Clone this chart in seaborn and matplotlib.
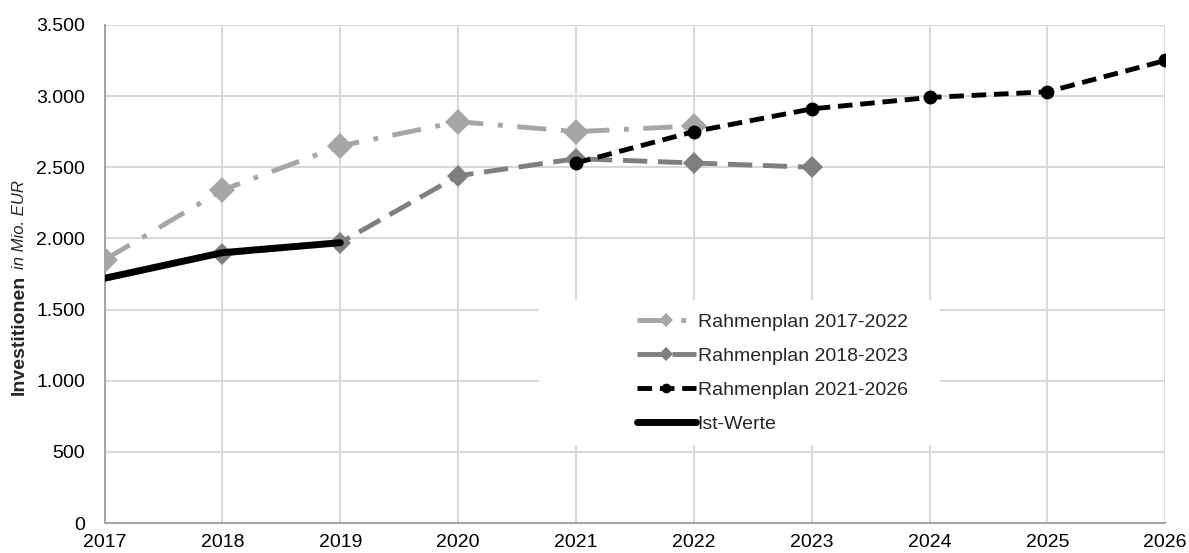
import numpy as np
import pandas as pd
import matplotlib.pyplot as plt
import seaborn as sns
from matplotlib.patches import Rectangle
from matplotlib.ticker import FuncFormatter

# ──────────────────────────────────────────────
# DATA (Mio. EUR)
# ──────────────────────────────────────────────
years_2017 = [2017, 2018, 2019, 2020, 2021, 2022]
rp_2017    = [1850, 2340, 2650, 2820, 2750, 2790]

years_2018 = [2018, 2019, 2020, 2021, 2022, 2023]
rp_2018    = [1890, 1970, 2440, 2560, 2530, 2500]

years_2021 = [2021, 2022, 2023, 2024, 2025, 2026]
rp_2021    = [2530, 2750, 2910, 2990, 3030, 3250]

years_ist  = [2017, 2018, 2019]
ist        = [1720, 1900, 1970]

x_ticks = list(range(2017, 2027))
y_ticks = [0, 500, 1000, 1500, 2000, 2500, 3000, 3500]

sns.set_theme(style='whitegrid')
plt.rcParams['font.family'] = ['Liberation Sans', 'DejaVu Sans']

fig, ax = plt.subplots(figsize=(11.89, 5.53), dpi=100)
fig.subplots_adjust(left=0.088, right=0.98, bottom=0.054, top=0.955)

series = [
    ('Rahmenplan 2017-2022', years_2017, rp_2017, '#A6A6A6', (0, (6, 3, 1, 3)), 'D', 13, 3.5),
    ('Rahmenplan 2018-2023', years_2018, rp_2018, '#7F7F7F', (0, (5, 2.2)), 'D', 11, 3.5),
    ('Rahmenplan 2021-2026', years_2021, rp_2021, '#000000', (0, (3, 1.6)), 'o', 10, 3.5),
    ('Ist-Werte', years_ist, ist, '#000000', '-', None, 0, 5),
]

for name, xs, ys, col, ls, mk, ms, lw in series:
    df = pd.DataFrame({'Jahr': xs, 'Wert': ys})
    sns.lineplot(data=df, x='Jahr', y='Wert', ax=ax, color=col, linestyle=ls,
                 marker=mk, markersize=ms, markeredgewidth=0, linewidth=lw,
                 label=name, zorder=3)

ax.set_xlim(2017, 2026)
ax.set_ylim(0, 3500)
ax.set_xticks(x_ticks)
ax.set_yticks(y_ticks)
ax.yaxis.set_major_formatter(FuncFormatter(lambda v, p: f'{int(v):,}'.replace(',', '.')))
ax.tick_params(axis='y', labelsize=14, labelcolor='black', color='#A6A6A6',
               length=4, width=1.2, pad=10)
ax.tick_params(axis='x', labelsize=14, labelcolor='black', length=0, pad=8)
ax.grid(True, color='#D9D9D9', linewidth=1.5)
for side in ['top', 'right']:
    ax.spines[side].set_visible(False)
for side in ['left', 'bottom']:
    ax.spines[side].set_color('#A6A6A6')
    ax.spines[side].set_linewidth(1.5)
ax.set_xlabel('')
ax.set_ylabel('')

# y label: bold part + italic part
lab = fig.text(0.016, 0.286, 'Investitionen', rotation=90, fontsize=14,
               fontweight='bold', ha='center', va='bottom')
ax.annotate('in Mio. EUR', xy=(0.5, 1.0), xycoords=lab, xytext=(0, 4),
            textcoords='offset points', rotation=90, fontsize=12,
            fontstyle='italic', ha='center', va='bottom')

# white legend box covering the grid
ax.add_patch(Rectangle((0.41, 0.157), 0.378, 0.291, transform=ax.transAxes,
                       facecolor='white', edgecolor='none', zorder=2.5))

leg = ax.legend(loc='center left', bbox_to_anchor=(0.493, 0.301), frameon=False,
                fontsize=14, handlelength=3.0, handletextpad=0.1,
                labelspacing=0.85, borderpad=0)
for ln in leg.get_lines():
    ln.set_markersize(7)
leg.set_zorder(4)

plt.savefig('out.png', dpi=100)
